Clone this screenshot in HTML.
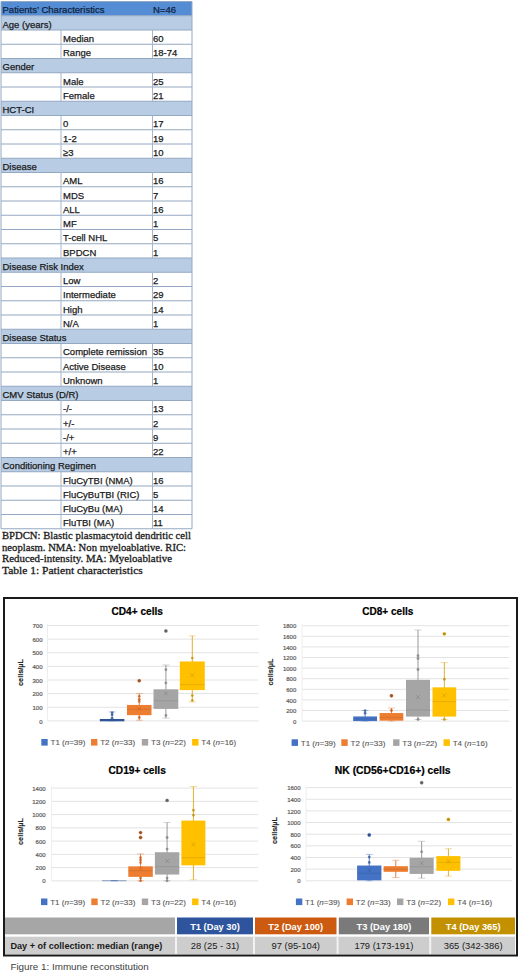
<!DOCTYPE html>
<html><head><meta charset="utf-8"><style>
html,body{margin:0;padding:0;background:#fff;}
body{width:520px;height:973px;overflow:hidden;font-family:"Liberation Sans",sans-serif;}
svg{position:absolute;left:0;top:0;font-family:"Liberation Sans",sans-serif;}
text.k{stroke:#1a1a1a;stroke-width:.25px;}
text.n{stroke:#10243f;stroke-width:.25px;}
text.s{stroke:#1a1a1a;stroke-width:.3px;}
text.a{stroke:#5a5a5a;stroke-width:.2px;}
text.l{stroke:#595959;stroke-width:.12px;}
text.b{stroke:#000;stroke-width:.2px;}
text.c{stroke:#262626;stroke-width:.15px;}
</style></head><body>
<svg width="520" height="973" viewBox="0 0 520 973">
<rect x="1" y="1.5" width="191" height="14.25" fill="#548dd4"/>
<rect x="1" y="15.75" width="191" height="14.25" fill="#b8cce4"/>
<rect x="1" y="58.5" width="191" height="14.25" fill="#b8cce4"/>
<rect x="1" y="101.25" width="191" height="14.25" fill="#b8cce4"/>
<rect x="1" y="158.25" width="191" height="14.25" fill="#b8cce4"/>
<rect x="1" y="258.0" width="191" height="14.25" fill="#b8cce4"/>
<rect x="1" y="329.25" width="191" height="14.25" fill="#b8cce4"/>
<rect x="1" y="386.25" width="191" height="14.25" fill="#b8cce4"/>
<rect x="1" y="457.5" width="191" height="14.25" fill="#b8cce4"/>
<line x1="1" x2="192" y1="1.5" y2="1.5" stroke="#94a8c2" stroke-width="1"/>
<line x1="1" x2="192" y1="15.75" y2="15.75" stroke="#94a8c2" stroke-width="1"/>
<line x1="1" x2="192" y1="30.0" y2="30.0" stroke="#94a8c2" stroke-width="1"/>
<line x1="1" x2="192" y1="44.25" y2="44.25" stroke="#94a8c2" stroke-width="1"/>
<line x1="1" x2="192" y1="58.5" y2="58.5" stroke="#94a8c2" stroke-width="1"/>
<line x1="1" x2="192" y1="72.75" y2="72.75" stroke="#94a8c2" stroke-width="1"/>
<line x1="1" x2="192" y1="87.0" y2="87.0" stroke="#94a8c2" stroke-width="1"/>
<line x1="1" x2="192" y1="101.25" y2="101.25" stroke="#94a8c2" stroke-width="1"/>
<line x1="1" x2="192" y1="115.5" y2="115.5" stroke="#94a8c2" stroke-width="1"/>
<line x1="1" x2="192" y1="129.75" y2="129.75" stroke="#94a8c2" stroke-width="1"/>
<line x1="1" x2="192" y1="144.0" y2="144.0" stroke="#94a8c2" stroke-width="1"/>
<line x1="1" x2="192" y1="158.25" y2="158.25" stroke="#94a8c2" stroke-width="1"/>
<line x1="1" x2="192" y1="172.5" y2="172.5" stroke="#94a8c2" stroke-width="1"/>
<line x1="1" x2="192" y1="186.75" y2="186.75" stroke="#94a8c2" stroke-width="1"/>
<line x1="1" x2="192" y1="201.0" y2="201.0" stroke="#94a8c2" stroke-width="1"/>
<line x1="1" x2="192" y1="215.25" y2="215.25" stroke="#94a8c2" stroke-width="1"/>
<line x1="1" x2="192" y1="229.5" y2="229.5" stroke="#94a8c2" stroke-width="1"/>
<line x1="1" x2="192" y1="243.75" y2="243.75" stroke="#94a8c2" stroke-width="1"/>
<line x1="1" x2="192" y1="258.0" y2="258.0" stroke="#94a8c2" stroke-width="1"/>
<line x1="1" x2="192" y1="272.25" y2="272.25" stroke="#94a8c2" stroke-width="1"/>
<line x1="1" x2="192" y1="286.5" y2="286.5" stroke="#94a8c2" stroke-width="1"/>
<line x1="1" x2="192" y1="300.75" y2="300.75" stroke="#94a8c2" stroke-width="1"/>
<line x1="1" x2="192" y1="315.0" y2="315.0" stroke="#94a8c2" stroke-width="1"/>
<line x1="1" x2="192" y1="329.25" y2="329.25" stroke="#94a8c2" stroke-width="1"/>
<line x1="1" x2="192" y1="343.5" y2="343.5" stroke="#94a8c2" stroke-width="1"/>
<line x1="1" x2="192" y1="357.75" y2="357.75" stroke="#94a8c2" stroke-width="1"/>
<line x1="1" x2="192" y1="372.0" y2="372.0" stroke="#94a8c2" stroke-width="1"/>
<line x1="1" x2="192" y1="386.25" y2="386.25" stroke="#94a8c2" stroke-width="1"/>
<line x1="1" x2="192" y1="400.5" y2="400.5" stroke="#94a8c2" stroke-width="1"/>
<line x1="1" x2="192" y1="414.75" y2="414.75" stroke="#94a8c2" stroke-width="1"/>
<line x1="1" x2="192" y1="429.0" y2="429.0" stroke="#94a8c2" stroke-width="1"/>
<line x1="1" x2="192" y1="443.25" y2="443.25" stroke="#94a8c2" stroke-width="1"/>
<line x1="1" x2="192" y1="457.5" y2="457.5" stroke="#94a8c2" stroke-width="1"/>
<line x1="1" x2="192" y1="471.75" y2="471.75" stroke="#94a8c2" stroke-width="1"/>
<line x1="1" x2="192" y1="486.0" y2="486.0" stroke="#94a8c2" stroke-width="1"/>
<line x1="1" x2="192" y1="500.25" y2="500.25" stroke="#94a8c2" stroke-width="1"/>
<line x1="1" x2="192" y1="514.5" y2="514.5" stroke="#94a8c2" stroke-width="1"/>
<line x1="1" x2="192" y1="528.75" y2="528.75" stroke="#94a8c2" stroke-width="1"/>
<line x1="1" x2="1" y1="1.5" y2="528.75" stroke="#94a8c2"/>
<line x1="192" x2="192" y1="1.5" y2="528.75" stroke="#94a8c2"/>
<line x1="61" x2="61" y1="30.0" y2="44.25" stroke="#a4b6cf"/>
<line x1="152.5" x2="152.5" y1="30.0" y2="44.25" stroke="#a4b6cf"/>
<line x1="61" x2="61" y1="44.25" y2="58.5" stroke="#a4b6cf"/>
<line x1="152.5" x2="152.5" y1="44.25" y2="58.5" stroke="#a4b6cf"/>
<line x1="61" x2="61" y1="72.75" y2="87.0" stroke="#a4b6cf"/>
<line x1="152.5" x2="152.5" y1="72.75" y2="87.0" stroke="#a4b6cf"/>
<line x1="61" x2="61" y1="87.0" y2="101.25" stroke="#a4b6cf"/>
<line x1="152.5" x2="152.5" y1="87.0" y2="101.25" stroke="#a4b6cf"/>
<line x1="61" x2="61" y1="115.5" y2="129.75" stroke="#a4b6cf"/>
<line x1="152.5" x2="152.5" y1="115.5" y2="129.75" stroke="#a4b6cf"/>
<line x1="61" x2="61" y1="129.75" y2="144.0" stroke="#a4b6cf"/>
<line x1="152.5" x2="152.5" y1="129.75" y2="144.0" stroke="#a4b6cf"/>
<line x1="61" x2="61" y1="144.0" y2="158.25" stroke="#a4b6cf"/>
<line x1="152.5" x2="152.5" y1="144.0" y2="158.25" stroke="#a4b6cf"/>
<line x1="61" x2="61" y1="172.5" y2="186.75" stroke="#a4b6cf"/>
<line x1="152.5" x2="152.5" y1="172.5" y2="186.75" stroke="#a4b6cf"/>
<line x1="61" x2="61" y1="186.75" y2="201.0" stroke="#a4b6cf"/>
<line x1="152.5" x2="152.5" y1="186.75" y2="201.0" stroke="#a4b6cf"/>
<line x1="61" x2="61" y1="201.0" y2="215.25" stroke="#a4b6cf"/>
<line x1="152.5" x2="152.5" y1="201.0" y2="215.25" stroke="#a4b6cf"/>
<line x1="61" x2="61" y1="215.25" y2="229.5" stroke="#a4b6cf"/>
<line x1="152.5" x2="152.5" y1="215.25" y2="229.5" stroke="#a4b6cf"/>
<line x1="61" x2="61" y1="229.5" y2="243.75" stroke="#a4b6cf"/>
<line x1="152.5" x2="152.5" y1="229.5" y2="243.75" stroke="#a4b6cf"/>
<line x1="61" x2="61" y1="243.75" y2="258.0" stroke="#a4b6cf"/>
<line x1="152.5" x2="152.5" y1="243.75" y2="258.0" stroke="#a4b6cf"/>
<line x1="61" x2="61" y1="272.25" y2="286.5" stroke="#a4b6cf"/>
<line x1="152.5" x2="152.5" y1="272.25" y2="286.5" stroke="#a4b6cf"/>
<line x1="61" x2="61" y1="286.5" y2="300.75" stroke="#a4b6cf"/>
<line x1="152.5" x2="152.5" y1="286.5" y2="300.75" stroke="#a4b6cf"/>
<line x1="61" x2="61" y1="300.75" y2="315.0" stroke="#a4b6cf"/>
<line x1="152.5" x2="152.5" y1="300.75" y2="315.0" stroke="#a4b6cf"/>
<line x1="61" x2="61" y1="315.0" y2="329.25" stroke="#a4b6cf"/>
<line x1="152.5" x2="152.5" y1="315.0" y2="329.25" stroke="#a4b6cf"/>
<line x1="61" x2="61" y1="343.5" y2="357.75" stroke="#a4b6cf"/>
<line x1="152.5" x2="152.5" y1="343.5" y2="357.75" stroke="#a4b6cf"/>
<line x1="61" x2="61" y1="357.75" y2="372.0" stroke="#a4b6cf"/>
<line x1="152.5" x2="152.5" y1="357.75" y2="372.0" stroke="#a4b6cf"/>
<line x1="61" x2="61" y1="372.0" y2="386.25" stroke="#a4b6cf"/>
<line x1="152.5" x2="152.5" y1="372.0" y2="386.25" stroke="#a4b6cf"/>
<line x1="61" x2="61" y1="400.5" y2="414.75" stroke="#a4b6cf"/>
<line x1="152.5" x2="152.5" y1="400.5" y2="414.75" stroke="#a4b6cf"/>
<line x1="61" x2="61" y1="414.75" y2="429.0" stroke="#a4b6cf"/>
<line x1="152.5" x2="152.5" y1="414.75" y2="429.0" stroke="#a4b6cf"/>
<line x1="61" x2="61" y1="429.0" y2="443.25" stroke="#a4b6cf"/>
<line x1="152.5" x2="152.5" y1="429.0" y2="443.25" stroke="#a4b6cf"/>
<line x1="61" x2="61" y1="443.25" y2="457.5" stroke="#a4b6cf"/>
<line x1="152.5" x2="152.5" y1="443.25" y2="457.5" stroke="#a4b6cf"/>
<line x1="61" x2="61" y1="471.75" y2="486.0" stroke="#a4b6cf"/>
<line x1="152.5" x2="152.5" y1="471.75" y2="486.0" stroke="#a4b6cf"/>
<line x1="61" x2="61" y1="486.0" y2="500.25" stroke="#a4b6cf"/>
<line x1="152.5" x2="152.5" y1="486.0" y2="500.25" stroke="#a4b6cf"/>
<line x1="61" x2="61" y1="500.25" y2="514.5" stroke="#a4b6cf"/>
<line x1="152.5" x2="152.5" y1="500.25" y2="514.5" stroke="#a4b6cf"/>
<line x1="61" x2="61" y1="514.5" y2="528.75" stroke="#a4b6cf"/>
<line x1="152.5" x2="152.5" y1="514.5" y2="528.75" stroke="#a4b6cf"/>
<text x="2.5" y="13.3" font-size="9.5" fill="#10243f" class="n" textLength="102" lengthAdjust="spacingAndGlyphs">Patients’ Characteristics</text>
<text x="153" y="13.3" font-size="9.5" fill="#10243f" class="n">N=46</text>
<text x="2.5" y="27.55" font-size="9.5" fill="#1a1a1a" class="k">Age (years)</text>
<text x="63" y="41.8" font-size="9.5" fill="#1a1a1a" class="k">Median</text>
<text x="153" y="41.8" font-size="9.5" fill="#1a1a1a" class="k">60</text>
<text x="63" y="56.05" font-size="9.5" fill="#1a1a1a" class="k">Range</text>
<text x="153" y="56.05" font-size="9.5" fill="#1a1a1a" class="k">18-74</text>
<text x="2.5" y="70.3" font-size="9.5" fill="#1a1a1a" class="k">Gender</text>
<text x="63" y="84.55" font-size="9.5" fill="#1a1a1a" class="k">Male</text>
<text x="153" y="84.55" font-size="9.5" fill="#1a1a1a" class="k">25</text>
<text x="63" y="98.8" font-size="9.5" fill="#1a1a1a" class="k">Female</text>
<text x="153" y="98.8" font-size="9.5" fill="#1a1a1a" class="k">21</text>
<text x="2.5" y="113.05" font-size="9.5" fill="#1a1a1a" class="k">HCT-CI</text>
<text x="63" y="127.3" font-size="9.5" fill="#1a1a1a" class="k">0</text>
<text x="153" y="127.3" font-size="9.5" fill="#1a1a1a" class="k">17</text>
<text x="63" y="141.55" font-size="9.5" fill="#1a1a1a" class="k">1-2</text>
<text x="153" y="141.55" font-size="9.5" fill="#1a1a1a" class="k">19</text>
<text x="63" y="155.8" font-size="9.5" fill="#1a1a1a" class="k">≥3</text>
<text x="153" y="155.8" font-size="9.5" fill="#1a1a1a" class="k">10</text>
<text x="2.5" y="170.05" font-size="9.5" fill="#1a1a1a" class="k">Disease</text>
<text x="63" y="184.3" font-size="9.5" fill="#1a1a1a" class="k">AML</text>
<text x="153" y="184.3" font-size="9.5" fill="#1a1a1a" class="k">16</text>
<text x="63" y="198.55" font-size="9.5" fill="#1a1a1a" class="k">MDS</text>
<text x="153" y="198.55" font-size="9.5" fill="#1a1a1a" class="k">7</text>
<text x="63" y="212.8" font-size="9.5" fill="#1a1a1a" class="k">ALL</text>
<text x="153" y="212.8" font-size="9.5" fill="#1a1a1a" class="k">16</text>
<text x="63" y="227.05" font-size="9.5" fill="#1a1a1a" class="k">MF</text>
<text x="153" y="227.05" font-size="9.5" fill="#1a1a1a" class="k">1</text>
<text x="63" y="241.3" font-size="9.5" fill="#1a1a1a" class="k">T-cell NHL</text>
<text x="153" y="241.3" font-size="9.5" fill="#1a1a1a" class="k">5</text>
<text x="63" y="255.55" font-size="9.5" fill="#1a1a1a" class="k">BPDCN</text>
<text x="153" y="255.55" font-size="9.5" fill="#1a1a1a" class="k">1</text>
<text x="2.5" y="269.8" font-size="9.5" fill="#1a1a1a" class="k">Disease Risk Index</text>
<text x="63" y="284.05" font-size="9.5" fill="#1a1a1a" class="k">Low</text>
<text x="153" y="284.05" font-size="9.5" fill="#1a1a1a" class="k">2</text>
<text x="63" y="298.3" font-size="9.5" fill="#1a1a1a" class="k">Intermediate</text>
<text x="153" y="298.3" font-size="9.5" fill="#1a1a1a" class="k">29</text>
<text x="63" y="312.55" font-size="9.5" fill="#1a1a1a" class="k">High</text>
<text x="153" y="312.55" font-size="9.5" fill="#1a1a1a" class="k">14</text>
<text x="63" y="326.8" font-size="9.5" fill="#1a1a1a" class="k">N/A</text>
<text x="153" y="326.8" font-size="9.5" fill="#1a1a1a" class="k">1</text>
<text x="2.5" y="341.05" font-size="9.5" fill="#1a1a1a" class="k">Disease Status</text>
<text x="63" y="355.3" font-size="9.5" fill="#1a1a1a" class="k">Complete remission</text>
<text x="153" y="355.3" font-size="9.5" fill="#1a1a1a" class="k">35</text>
<text x="63" y="369.55" font-size="9.5" fill="#1a1a1a" class="k">Active Disease</text>
<text x="153" y="369.55" font-size="9.5" fill="#1a1a1a" class="k">10</text>
<text x="63" y="383.8" font-size="9.5" fill="#1a1a1a" class="k">Unknown</text>
<text x="153" y="383.8" font-size="9.5" fill="#1a1a1a" class="k">1</text>
<text x="2.5" y="398.05" font-size="9.5" fill="#1a1a1a" class="k">CMV Status (D/R)</text>
<text x="63" y="412.3" font-size="9.5" fill="#1a1a1a" class="k">-/-</text>
<text x="153" y="412.3" font-size="9.5" fill="#1a1a1a" class="k">13</text>
<text x="63" y="426.55" font-size="9.5" fill="#1a1a1a" class="k">+/-</text>
<text x="153" y="426.55" font-size="9.5" fill="#1a1a1a" class="k">2</text>
<text x="63" y="440.8" font-size="9.5" fill="#1a1a1a" class="k">-/+</text>
<text x="153" y="440.8" font-size="9.5" fill="#1a1a1a" class="k">9</text>
<text x="63" y="455.05" font-size="9.5" fill="#1a1a1a" class="k">+/+</text>
<text x="153" y="455.05" font-size="9.5" fill="#1a1a1a" class="k">22</text>
<text x="2.5" y="469.3" font-size="9.5" fill="#1a1a1a" class="k">Conditioning Regimen</text>
<text x="63" y="483.55" font-size="9.5" fill="#1a1a1a" class="k">FluCyTBI (NMA)</text>
<text x="153" y="483.55" font-size="9.5" fill="#1a1a1a" class="k">16</text>
<text x="63" y="497.8" font-size="9.5" fill="#1a1a1a" class="k">FluCyBuTBI (RIC)</text>
<text x="153" y="497.8" font-size="9.5" fill="#1a1a1a" class="k">5</text>
<text x="63" y="512.05" font-size="9.5" fill="#1a1a1a" class="k">FluCyBu (MA)</text>
<text x="153" y="512.05" font-size="9.5" fill="#1a1a1a" class="k">14</text>
<text x="63" y="526.3" font-size="9.5" fill="#1a1a1a" class="k">FluTBI (MA)</text>
<text x="153" y="526.3" font-size="9.5" fill="#1a1a1a" class="k">11</text>
<text x="2" y="539.1" font-family="Liberation Serif" font-size="11" fill="#1a1a1a" class="s" textLength="189" lengthAdjust="spacingAndGlyphs">BPDCN: Blastic plasmacytoid dendritic cell</text>
<text x="2" y="550.6" font-family="Liberation Serif" font-size="11" fill="#1a1a1a" class="s" textLength="184" lengthAdjust="spacingAndGlyphs">neoplasm. NMA: Non myeloablative. RIC:</text>
<text x="2" y="562.0" font-family="Liberation Serif" font-size="11" fill="#1a1a1a" class="s" textLength="170" lengthAdjust="spacingAndGlyphs">Reduced-intensity. MA: Myeloablative</text>
<text x="2" y="574.1" font-family="Liberation Serif" font-size="11" fill="#1a1a1a" class="s" textLength="140.8" lengthAdjust="spacingAndGlyphs">Table 1: Patient characteristics</text>
<rect x="4" y="598" width="513" height="357.5" fill="none" stroke="#1a1a1a" stroke-width="2"/>
<text x="111.5" y="614.6" font-size="10.1" font-weight="bold" fill="#000" class="b" textLength="51.5" lengthAdjust="spacingAndGlyphs">CD4+ cells</text>
<line x1="47.5" x2="258.5" y1="720.90" y2="720.90" stroke="#e3e3e3" stroke-width="1"/>
<text x="42.5" y="723.50" font-size="6" fill="#5a5a5a" class="a" text-anchor="end">0</text>
<line x1="47.5" x2="258.5" y1="707.27" y2="707.27" stroke="#e3e3e3" stroke-width="1"/>
<text x="42.5" y="709.87" font-size="6" fill="#5a5a5a" class="a" text-anchor="end">100</text>
<line x1="47.5" x2="258.5" y1="693.64" y2="693.64" stroke="#e3e3e3" stroke-width="1"/>
<text x="42.5" y="696.24" font-size="6" fill="#5a5a5a" class="a" text-anchor="end">200</text>
<line x1="47.5" x2="258.5" y1="680.01" y2="680.01" stroke="#e3e3e3" stroke-width="1"/>
<text x="42.5" y="682.61" font-size="6" fill="#5a5a5a" class="a" text-anchor="end">300</text>
<line x1="47.5" x2="258.5" y1="666.39" y2="666.39" stroke="#e3e3e3" stroke-width="1"/>
<text x="42.5" y="668.99" font-size="6" fill="#5a5a5a" class="a" text-anchor="end">400</text>
<line x1="47.5" x2="258.5" y1="652.76" y2="652.76" stroke="#e3e3e3" stroke-width="1"/>
<text x="42.5" y="655.36" font-size="6" fill="#5a5a5a" class="a" text-anchor="end">500</text>
<line x1="47.5" x2="258.5" y1="639.13" y2="639.13" stroke="#e3e3e3" stroke-width="1"/>
<text x="42.5" y="641.73" font-size="6" fill="#5a5a5a" class="a" text-anchor="end">600</text>
<line x1="47.5" x2="258.5" y1="625.50" y2="625.50" stroke="#e3e3e3" stroke-width="1"/>
<text x="42.5" y="628.10" font-size="6" fill="#5a5a5a" class="a" text-anchor="end">700</text>
<line x1="47.50" x2="47.50" y1="623.50" y2="720.90" stroke="#eeeeee" stroke-width="1"/>
<text transform="translate(22.6,672.5) rotate(-90)" font-size="7.3" font-weight="bold" fill="#262626" class="c" text-anchor="middle">cells/µL</text>
<line x1="112.10" x2="112.10" y1="711.91" y2="720.90" stroke="#5a7fc4" stroke-width="1"/>
<line x1="108.60" x2="115.60" y1="711.91" y2="711.91" stroke="#5a7fc4" stroke-opacity="0.45" stroke-width="1"/>
<line x1="108.60" x2="115.60" y1="720.90" y2="720.90" stroke="#5a7fc4" stroke-opacity="0.45" stroke-width="1"/>
<rect x="99.80" y="718.99" width="24.60" height="2.32" fill="#2f5597"/>
<circle cx="112.10" cy="718.17" r="1.4" fill="#2f5597" fill-opacity="0.75"/>
<circle cx="112.10" cy="714.77" r="1.4" fill="#2f5597" fill-opacity="0.75"/>
<circle cx="112.10" cy="712.72" r="1.4" fill="#2f5597" fill-opacity="0.75"/>
<line x1="139.25" x2="139.25" y1="693.51" y2="720.22" stroke="#e0813f" stroke-width="1"/>
<line x1="135.75" x2="142.75" y1="693.51" y2="693.51" stroke="#e0813f" stroke-opacity="0.45" stroke-width="1"/>
<line x1="135.75" x2="142.75" y1="720.22" y2="720.22" stroke="#e0813f" stroke-opacity="0.45" stroke-width="1"/>
<rect x="127.00" y="704.95" width="24.50" height="10.22" fill="#ed7d31"/>
<line x1="127.00" x2="151.50" y1="709.32" y2="709.32" stroke="#000" stroke-opacity="0.09" stroke-width="1"/>
<path d="M137.25 706.63L141.25 710.63M141.25 706.63L137.25 710.63" stroke="#c55a11" stroke-opacity="0.6" stroke-width="0.8" fill="none"/>
<circle cx="139.25" cy="701.41" r="1.4" fill="#c55a11" fill-opacity="0.75"/>
<circle cx="139.25" cy="699.37" r="1.4" fill="#c55a11" fill-opacity="0.75"/>
<circle cx="139.25" cy="696.37" r="1.4" fill="#c55a11" fill-opacity="0.75"/>
<circle cx="139.25" cy="717.49" r="1.4" fill="#c55a11" fill-opacity="0.75"/>
<circle cx="139.25" cy="680.70" r="1.7" fill="#9a5428" stroke="#ed7d31" stroke-opacity="0.4" stroke-width="0.6"/>
<line x1="165.90" x2="165.90" y1="665.02" y2="718.04" stroke="#9a9a9a" stroke-width="1"/>
<line x1="162.40" x2="169.40" y1="665.02" y2="665.02" stroke="#9a9a9a" stroke-opacity="0.45" stroke-width="1"/>
<line x1="162.40" x2="169.40" y1="718.04" y2="718.04" stroke="#9a9a9a" stroke-opacity="0.45" stroke-width="1"/>
<rect x="153.50" y="689.28" width="24.80" height="19.63" fill="#a5a5a5"/>
<line x1="153.50" x2="178.30" y1="700.73" y2="700.73" stroke="#000" stroke-opacity="0.09" stroke-width="1"/>
<path d="M163.90 691.37L167.90 695.37M167.90 691.37L163.90 695.37" stroke="#7b7b7b" stroke-opacity="0.6" stroke-width="0.8" fill="none"/>
<circle cx="165.90" cy="669.66" r="1.4" fill="#7b7b7b" fill-opacity="0.75"/>
<circle cx="165.90" cy="682.88" r="1.4" fill="#7b7b7b" fill-opacity="0.75"/>
<circle cx="165.90" cy="715.45" r="1.4" fill="#7b7b7b" fill-opacity="0.75"/>
<circle cx="165.90" cy="630.95" r="1.7" fill="#606060" stroke="#a5a5a5" stroke-opacity="0.4" stroke-width="0.6"/>
<line x1="192.30" x2="192.30" y1="635.86" y2="701.82" stroke="#e0b030" stroke-width="1"/>
<line x1="188.80" x2="195.80" y1="635.86" y2="635.86" stroke="#e0b030" stroke-opacity="0.45" stroke-width="1"/>
<line x1="188.80" x2="195.80" y1="701.82" y2="701.82" stroke="#e0b030" stroke-opacity="0.45" stroke-width="1"/>
<rect x="179.80" y="661.48" width="25.00" height="28.62" fill="#ffc000"/>
<line x1="179.80" x2="204.80" y1="684.65" y2="684.65" stroke="#000" stroke-opacity="0.09" stroke-width="1"/>
<path d="M190.30 673.24L194.30 677.24M194.30 673.24L190.30 677.24" stroke="#bf9000" stroke-opacity="0.6" stroke-width="0.8" fill="none"/>
<circle cx="192.30" cy="658.07" r="1.4" fill="#bf9000" fill-opacity="0.75"/>
<circle cx="192.30" cy="695.55" r="1.4" fill="#bf9000" fill-opacity="0.75"/>
<circle cx="192.30" cy="700.46" r="1.4" fill="#bf9000" fill-opacity="0.75"/>
<rect x="41.3" y="739" width="6.4" height="6.6" fill="#4472c4"/>
<text x="50.5" y="745.2" font-size="8" fill="#595959" class="l">T1 (<tspan font-style='italic'>n</tspan>=39)</text>
<rect x="91" y="739" width="6.4" height="6.6" fill="#ed7d31"/>
<text x="100.2" y="745.2" font-size="8" fill="#595959" class="l">T2 (<tspan font-style='italic'>n</tspan>=33)</text>
<rect x="141.8" y="739" width="6.4" height="6.6" fill="#a5a5a5"/>
<text x="151.0" y="745.2" font-size="8" fill="#595959" class="l">T3 (<tspan font-style='italic'>n</tspan>=22)</text>
<rect x="192.1" y="739" width="6.4" height="6.6" fill="#ffc000"/>
<text x="201.29999999999998" y="745.2" font-size="8" fill="#595959" class="l">T4 (<tspan font-style='italic'>n</tspan>=16)</text>
<text x="362.3" y="614.6" font-size="10.1" font-weight="bold" fill="#000" class="b" textLength="51" lengthAdjust="spacingAndGlyphs">CD8+ cells</text>
<line x1="302" x2="509.2" y1="721.10" y2="721.10" stroke="#e3e3e3" stroke-width="1"/>
<text x="296.3" y="723.70" font-size="6" fill="#5a5a5a" class="a" text-anchor="end">0</text>
<line x1="302" x2="509.2" y1="710.50" y2="710.50" stroke="#e3e3e3" stroke-width="1"/>
<text x="296.3" y="713.10" font-size="6" fill="#5a5a5a" class="a" text-anchor="end">200</text>
<line x1="302" x2="509.2" y1="699.90" y2="699.90" stroke="#e3e3e3" stroke-width="1"/>
<text x="296.3" y="702.50" font-size="6" fill="#5a5a5a" class="a" text-anchor="end">400</text>
<line x1="302" x2="509.2" y1="689.30" y2="689.30" stroke="#e3e3e3" stroke-width="1"/>
<text x="296.3" y="691.90" font-size="6" fill="#5a5a5a" class="a" text-anchor="end">600</text>
<line x1="302" x2="509.2" y1="678.70" y2="678.70" stroke="#e3e3e3" stroke-width="1"/>
<text x="296.3" y="681.30" font-size="6" fill="#5a5a5a" class="a" text-anchor="end">800</text>
<line x1="302" x2="509.2" y1="668.10" y2="668.10" stroke="#e3e3e3" stroke-width="1"/>
<text x="296.3" y="670.70" font-size="6" fill="#5a5a5a" class="a" text-anchor="end">1000</text>
<line x1="302" x2="509.2" y1="657.50" y2="657.50" stroke="#e3e3e3" stroke-width="1"/>
<text x="296.3" y="660.10" font-size="6" fill="#5a5a5a" class="a" text-anchor="end">1200</text>
<line x1="302" x2="509.2" y1="646.90" y2="646.90" stroke="#e3e3e3" stroke-width="1"/>
<text x="296.3" y="649.50" font-size="6" fill="#5a5a5a" class="a" text-anchor="end">1400</text>
<line x1="302" x2="509.2" y1="636.30" y2="636.30" stroke="#e3e3e3" stroke-width="1"/>
<text x="296.3" y="638.90" font-size="6" fill="#5a5a5a" class="a" text-anchor="end">1600</text>
<line x1="302" x2="509.2" y1="625.70" y2="625.70" stroke="#e3e3e3" stroke-width="1"/>
<text x="296.3" y="628.30" font-size="6" fill="#5a5a5a" class="a" text-anchor="end">1800</text>
<line x1="302.00" x2="302.00" y1="623.70" y2="721.10" stroke="#eeeeee" stroke-width="1"/>
<text transform="translate(273.3,672) rotate(-90)" font-size="7.3" font-weight="bold" fill="#262626" class="c" text-anchor="middle">cells/µL</text>
<line x1="365.10" x2="365.10" y1="710.55" y2="721.10" stroke="#5a7fc4" stroke-width="1"/>
<line x1="361.60" x2="368.60" y1="710.55" y2="710.55" stroke="#5a7fc4" stroke-opacity="0.45" stroke-width="1"/>
<line x1="361.60" x2="368.60" y1="721.10" y2="721.10" stroke="#5a7fc4" stroke-opacity="0.45" stroke-width="1"/>
<rect x="353.20" y="716.44" width="23.80" height="4.66" fill="#4472c4"/>
<line x1="353.20" x2="377.00" y1="718.98" y2="718.98" stroke="#000" stroke-opacity="0.09" stroke-width="1"/>
<circle cx="365.10" cy="713.15" r="1.4" fill="#2f5597" fill-opacity="0.75"/>
<circle cx="365.10" cy="710.55" r="1.4" fill="#2f5597" fill-opacity="0.75"/>
<line x1="391.45" x2="391.45" y1="708.06" y2="721.10" stroke="#e0813f" stroke-width="1"/>
<line x1="387.95" x2="394.95" y1="708.06" y2="708.06" stroke="#e0813f" stroke-opacity="0.45" stroke-width="1"/>
<line x1="387.95" x2="394.95" y1="721.10" y2="721.10" stroke="#e0813f" stroke-opacity="0.45" stroke-width="1"/>
<rect x="379.60" y="713.04" width="23.70" height="7.63" fill="#ed7d31"/>
<line x1="379.60" x2="403.30" y1="717.39" y2="717.39" stroke="#000" stroke-opacity="0.09" stroke-width="1"/>
<circle cx="391.45" cy="710.50" r="1.4" fill="#c55a11" fill-opacity="0.75"/>
<circle cx="391.45" cy="695.77" r="1.7" fill="#9a5428" stroke="#ed7d31" stroke-opacity="0.4" stroke-width="0.6"/>
<line x1="418.00" x2="418.00" y1="629.99" y2="719.51" stroke="#9a9a9a" stroke-width="1"/>
<line x1="414.50" x2="421.50" y1="629.99" y2="629.99" stroke="#9a9a9a" stroke-opacity="0.45" stroke-width="1"/>
<line x1="414.50" x2="421.50" y1="719.51" y2="719.51" stroke="#9a9a9a" stroke-opacity="0.45" stroke-width="1"/>
<rect x="406.00" y="679.81" width="24.00" height="36.78" fill="#a5a5a5"/>
<line x1="406.00" x2="430.00" y1="710.02" y2="710.02" stroke="#000" stroke-opacity="0.09" stroke-width="1"/>
<path d="M416.00 695.09L420.00 699.09M420.00 695.09L416.00 699.09" stroke="#7b7b7b" stroke-opacity="0.6" stroke-width="0.8" fill="none"/>
<circle cx="418.00" cy="655.70" r="1.4" fill="#7b7b7b" fill-opacity="0.75"/>
<circle cx="418.00" cy="658.61" r="1.4" fill="#7b7b7b" fill-opacity="0.75"/>
<circle cx="418.00" cy="669.48" r="1.4" fill="#7b7b7b" fill-opacity="0.75"/>
<circle cx="418.00" cy="719.51" r="1.4" fill="#7b7b7b" fill-opacity="0.75"/>
<line x1="444.35" x2="444.35" y1="662.59" y2="719.51" stroke="#e0b030" stroke-width="1"/>
<line x1="440.85" x2="447.85" y1="662.59" y2="662.59" stroke="#e0b030" stroke-opacity="0.45" stroke-width="1"/>
<line x1="440.85" x2="447.85" y1="719.51" y2="719.51" stroke="#e0b030" stroke-opacity="0.45" stroke-width="1"/>
<rect x="432.50" y="687.34" width="23.70" height="29.26" fill="#ffc000"/>
<line x1="432.50" x2="456.20" y1="701.65" y2="701.65" stroke="#000" stroke-opacity="0.09" stroke-width="1"/>
<path d="M442.35 693.39L446.35 697.39M446.35 693.39L442.35 697.39" stroke="#bf9000" stroke-opacity="0.6" stroke-width="0.8" fill="none"/>
<circle cx="444.35" cy="679.23" r="1.4" fill="#bf9000" fill-opacity="0.75"/>
<circle cx="444.35" cy="719.51" r="1.4" fill="#bf9000" fill-opacity="0.75"/>
<circle cx="444.35" cy="633.86" r="1.7" fill="#b89018" stroke="#ffc000" stroke-opacity="0.4" stroke-width="0.6"/>
<rect x="291.6" y="739.3" width="6.4" height="6.6" fill="#4472c4"/>
<text x="300.8" y="745.5" font-size="8" fill="#595959" class="l">T1 (<tspan font-style='italic'>n</tspan>=39)</text>
<rect x="341.3" y="739.3" width="6.4" height="6.6" fill="#ed7d31"/>
<text x="350.5" y="745.5" font-size="8" fill="#595959" class="l">T2 (<tspan font-style='italic'>n</tspan>=33)</text>
<rect x="393.1" y="739.3" width="6.4" height="6.6" fill="#a5a5a5"/>
<text x="402.3" y="745.5" font-size="8" fill="#595959" class="l">T3 (<tspan font-style='italic'>n</tspan>=22)</text>
<rect x="443.5" y="739.3" width="6.4" height="6.6" fill="#ffc000"/>
<text x="452.7" y="745.5" font-size="8" fill="#595959" class="l">T4 (<tspan font-style='italic'>n</tspan>=16)</text>
<text x="108.5" y="774.2" font-size="10.1" font-weight="bold" fill="#000" class="b" textLength="57.3" lengthAdjust="spacingAndGlyphs">CD19+ cells</text>
<line x1="51.6" x2="258.2" y1="880.85" y2="880.85" stroke="#e3e3e3" stroke-width="1"/>
<text x="45.6" y="883.45" font-size="6" fill="#5a5a5a" class="a" text-anchor="end">0</text>
<line x1="51.6" x2="258.2" y1="867.60" y2="867.60" stroke="#e3e3e3" stroke-width="1"/>
<text x="45.6" y="870.20" font-size="6" fill="#5a5a5a" class="a" text-anchor="end">200</text>
<line x1="51.6" x2="258.2" y1="854.35" y2="854.35" stroke="#e3e3e3" stroke-width="1"/>
<text x="45.6" y="856.95" font-size="6" fill="#5a5a5a" class="a" text-anchor="end">400</text>
<line x1="51.6" x2="258.2" y1="841.10" y2="841.10" stroke="#e3e3e3" stroke-width="1"/>
<text x="45.6" y="843.70" font-size="6" fill="#5a5a5a" class="a" text-anchor="end">600</text>
<line x1="51.6" x2="258.2" y1="827.85" y2="827.85" stroke="#e3e3e3" stroke-width="1"/>
<text x="45.6" y="830.45" font-size="6" fill="#5a5a5a" class="a" text-anchor="end">800</text>
<line x1="51.6" x2="258.2" y1="814.60" y2="814.60" stroke="#e3e3e3" stroke-width="1"/>
<text x="45.6" y="817.20" font-size="6" fill="#5a5a5a" class="a" text-anchor="end">1000</text>
<line x1="51.6" x2="258.2" y1="801.35" y2="801.35" stroke="#e3e3e3" stroke-width="1"/>
<text x="45.6" y="803.95" font-size="6" fill="#5a5a5a" class="a" text-anchor="end">1200</text>
<line x1="51.6" x2="258.2" y1="788.10" y2="788.10" stroke="#e3e3e3" stroke-width="1"/>
<text x="45.6" y="790.70" font-size="6" fill="#5a5a5a" class="a" text-anchor="end">1400</text>
<line x1="51.60" x2="51.60" y1="786.10" y2="880.85" stroke="#eeeeee" stroke-width="1"/>
<text transform="translate(22.6,831.5) rotate(-90)" font-size="7.3" font-weight="bold" fill="#262626" class="c" text-anchor="middle">cells/µL</text>
<line x1="114.25" x2="114.25" y1="880.59" y2="880.85" stroke="#5a7fc4" stroke-width="1"/>
<line x1="110.75" x2="117.75" y1="880.59" y2="880.59" stroke="#5a7fc4" stroke-opacity="0.45" stroke-width="1"/>
<line x1="110.75" x2="117.75" y1="880.85" y2="880.85" stroke="#5a7fc4" stroke-opacity="0.45" stroke-width="1"/>
<rect x="102.00" y="880.59" width="24.50" height="0.53" fill="#2f5597"/>
<line x1="140.55" x2="140.55" y1="853.95" y2="880.85" stroke="#e0813f" stroke-width="1"/>
<line x1="137.05" x2="144.05" y1="853.95" y2="853.95" stroke="#e0813f" stroke-opacity="0.45" stroke-width="1"/>
<line x1="137.05" x2="144.05" y1="880.85" y2="880.85" stroke="#e0813f" stroke-opacity="0.45" stroke-width="1"/>
<rect x="128.30" y="866.34" width="24.50" height="10.53" fill="#ed7d31"/>
<line x1="128.30" x2="152.80" y1="870.78" y2="870.78" stroke="#000" stroke-opacity="0.09" stroke-width="1"/>
<path d="M138.55 866.26L142.55 870.26M142.55 866.26L138.55 870.26" stroke="#c55a11" stroke-opacity="0.6" stroke-width="0.8" fill="none"/>
<circle cx="140.55" cy="857.66" r="1.4" fill="#c55a11" fill-opacity="0.75"/>
<circle cx="140.55" cy="860.11" r="1.4" fill="#c55a11" fill-opacity="0.75"/>
<circle cx="140.55" cy="862.57" r="1.4" fill="#c55a11" fill-opacity="0.75"/>
<circle cx="140.55" cy="878.07" r="1.4" fill="#c55a11" fill-opacity="0.75"/>
<circle cx="140.55" cy="880.85" r="1.4" fill="#c55a11" fill-opacity="0.75"/>
<circle cx="140.55" cy="832.62" r="1.7" fill="#9a5428" stroke="#ed7d31" stroke-opacity="0.4" stroke-width="0.6"/>
<circle cx="140.55" cy="837.52" r="1.7" fill="#9a5428" stroke="#ed7d31" stroke-opacity="0.4" stroke-width="0.6"/>
<line x1="167.10" x2="167.10" y1="822.55" y2="880.85" stroke="#9a9a9a" stroke-width="1"/>
<line x1="163.60" x2="170.60" y1="822.55" y2="822.55" stroke="#9a9a9a" stroke-opacity="0.45" stroke-width="1"/>
<line x1="163.60" x2="170.60" y1="880.85" y2="880.85" stroke="#9a9a9a" stroke-opacity="0.45" stroke-width="1"/>
<rect x="154.90" y="852.23" width="24.40" height="22.33" fill="#a5a5a5"/>
<line x1="154.90" x2="179.30" y1="866.61" y2="866.61" stroke="#000" stroke-opacity="0.09" stroke-width="1"/>
<path d="M165.10 858.98L169.10 862.98M169.10 858.98L165.10 862.98" stroke="#7b7b7b" stroke-opacity="0.6" stroke-width="0.8" fill="none"/>
<circle cx="167.10" cy="837.52" r="1.4" fill="#7b7b7b" fill-opacity="0.75"/>
<circle cx="167.10" cy="849.12" r="1.4" fill="#7b7b7b" fill-opacity="0.75"/>
<circle cx="167.10" cy="878.07" r="1.4" fill="#7b7b7b" fill-opacity="0.75"/>
<circle cx="167.10" cy="880.85" r="1.4" fill="#7b7b7b" fill-opacity="0.75"/>
<circle cx="167.10" cy="800.42" r="1.7" fill="#606060" stroke="#a5a5a5" stroke-opacity="0.4" stroke-width="0.6"/>
<line x1="193.40" x2="193.40" y1="786.51" y2="879.72" stroke="#e0b030" stroke-width="1"/>
<line x1="189.90" x2="196.90" y1="786.51" y2="786.51" stroke="#e0b030" stroke-opacity="0.45" stroke-width="1"/>
<line x1="189.90" x2="196.90" y1="879.72" y2="879.72" stroke="#e0b030" stroke-opacity="0.45" stroke-width="1"/>
<rect x="181.40" y="820.56" width="24.00" height="44.78" fill="#ffc000"/>
<line x1="181.40" x2="205.40" y1="857.66" y2="857.66" stroke="#000" stroke-opacity="0.09" stroke-width="1"/>
<path d="M191.40 842.61L195.40 846.61M195.40 842.61L191.40 846.61" stroke="#bf9000" stroke-opacity="0.6" stroke-width="0.8" fill="none"/>
<circle cx="193.40" cy="810.23" r="1.4" fill="#bf9000" fill-opacity="0.75"/>
<circle cx="193.40" cy="815.13" r="1.4" fill="#bf9000" fill-opacity="0.75"/>
<rect x="41" y="898.5" width="6.4" height="6.6" fill="#4472c4"/>
<text x="50.2" y="904.7" font-size="8" fill="#595959" class="l">T1 (<tspan font-style='italic'>n</tspan>=39)</text>
<rect x="91.3" y="898.5" width="6.4" height="6.6" fill="#ed7d31"/>
<text x="100.5" y="904.7" font-size="8" fill="#595959" class="l">T2 (<tspan font-style='italic'>n</tspan>=33)</text>
<rect x="141.8" y="898.5" width="6.4" height="6.6" fill="#a5a5a5"/>
<text x="151.0" y="904.7" font-size="8" fill="#595959" class="l">T3 (<tspan font-style='italic'>n</tspan>=22)</text>
<rect x="192.1" y="898.5" width="6.4" height="6.6" fill="#ffc000"/>
<text x="201.29999999999998" y="904.7" font-size="8" fill="#595959" class="l">T4 (<tspan font-style='italic'>n</tspan>=16)</text>
<text x="334.8" y="774.0" font-size="10.1" font-weight="bold" fill="#000" class="b" textLength="115.8" lengthAdjust="spacingAndGlyphs">NK (CD56+CD16+) cells</text>
<line x1="306" x2="512.3" y1="880.80" y2="880.80" stroke="#e3e3e3" stroke-width="1"/>
<text x="300.5" y="883.40" font-size="6" fill="#5a5a5a" class="a" text-anchor="end">0</text>
<line x1="306" x2="512.3" y1="869.15" y2="869.15" stroke="#e3e3e3" stroke-width="1"/>
<text x="300.5" y="871.75" font-size="6" fill="#5a5a5a" class="a" text-anchor="end">200</text>
<line x1="306" x2="512.3" y1="857.50" y2="857.50" stroke="#e3e3e3" stroke-width="1"/>
<text x="300.5" y="860.10" font-size="6" fill="#5a5a5a" class="a" text-anchor="end">400</text>
<line x1="306" x2="512.3" y1="845.85" y2="845.85" stroke="#e3e3e3" stroke-width="1"/>
<text x="300.5" y="848.45" font-size="6" fill="#5a5a5a" class="a" text-anchor="end">600</text>
<line x1="306" x2="512.3" y1="834.20" y2="834.20" stroke="#e3e3e3" stroke-width="1"/>
<text x="300.5" y="836.80" font-size="6" fill="#5a5a5a" class="a" text-anchor="end">800</text>
<line x1="306" x2="512.3" y1="822.55" y2="822.55" stroke="#e3e3e3" stroke-width="1"/>
<text x="300.5" y="825.15" font-size="6" fill="#5a5a5a" class="a" text-anchor="end">1000</text>
<line x1="306" x2="512.3" y1="810.90" y2="810.90" stroke="#e3e3e3" stroke-width="1"/>
<text x="300.5" y="813.50" font-size="6" fill="#5a5a5a" class="a" text-anchor="end">1200</text>
<line x1="306" x2="512.3" y1="799.25" y2="799.25" stroke="#e3e3e3" stroke-width="1"/>
<text x="300.5" y="801.85" font-size="6" fill="#5a5a5a" class="a" text-anchor="end">1400</text>
<line x1="306" x2="512.3" y1="787.60" y2="787.60" stroke="#e3e3e3" stroke-width="1"/>
<text x="300.5" y="790.20" font-size="6" fill="#5a5a5a" class="a" text-anchor="end">1600</text>
<line x1="306.00" x2="306.00" y1="785.60" y2="880.80" stroke="#eeeeee" stroke-width="1"/>
<text transform="translate(277.3,830.5) rotate(-90)" font-size="7.3" font-weight="bold" fill="#262626" class="c" text-anchor="middle">cells/µL</text>
<line x1="369.25" x2="369.25" y1="854.41" y2="880.80" stroke="#5a7fc4" stroke-width="1"/>
<line x1="365.75" x2="372.75" y1="854.41" y2="854.41" stroke="#5a7fc4" stroke-opacity="0.45" stroke-width="1"/>
<line x1="365.75" x2="372.75" y1="880.80" y2="880.80" stroke="#5a7fc4" stroke-opacity="0.45" stroke-width="1"/>
<rect x="357.10" y="865.54" width="24.30" height="14.80" fill="#4472c4"/>
<line x1="357.10" x2="381.40" y1="873.23" y2="873.23" stroke="#000" stroke-opacity="0.09" stroke-width="1"/>
<path d="M367.25 868.31L371.25 872.31M371.25 868.31L367.25 872.31" stroke="#2f5597" stroke-opacity="0.6" stroke-width="0.8" fill="none"/>
<circle cx="369.25" cy="857.09" r="1.4" fill="#2f5597" fill-opacity="0.75"/>
<circle cx="369.25" cy="862.39" r="1.4" fill="#2f5597" fill-opacity="0.75"/>
<circle cx="369.25" cy="834.96" r="1.7" fill="#2a4a8a" stroke="#4472c4" stroke-opacity="0.4" stroke-width="0.6"/>
<line x1="395.75" x2="395.75" y1="860.30" y2="877.54" stroke="#e0813f" stroke-width="1"/>
<line x1="392.25" x2="399.25" y1="860.30" y2="860.30" stroke="#e0813f" stroke-opacity="0.45" stroke-width="1"/>
<line x1="392.25" x2="399.25" y1="877.54" y2="877.54" stroke="#e0813f" stroke-opacity="0.45" stroke-width="1"/>
<rect x="383.60" y="866.18" width="24.30" height="5.65" fill="#ed7d31"/>
<line x1="383.60" x2="407.90" y1="869.15" y2="869.15" stroke="#000" stroke-opacity="0.09" stroke-width="1"/>
<line x1="421.65" x2="421.65" y1="841.31" y2="878.18" stroke="#9a9a9a" stroke-width="1"/>
<line x1="418.15" x2="425.15" y1="841.31" y2="841.31" stroke="#9a9a9a" stroke-opacity="0.45" stroke-width="1"/>
<line x1="418.15" x2="425.15" y1="878.18" y2="878.18" stroke="#9a9a9a" stroke-opacity="0.45" stroke-width="1"/>
<rect x="409.60" y="857.79" width="24.10" height="16.14" fill="#a5a5a5"/>
<line x1="409.60" x2="433.70" y1="866.82" y2="866.82" stroke="#000" stroke-opacity="0.09" stroke-width="1"/>
<path d="M419.65 861.32L423.65 865.32M423.65 861.32L419.65 865.32" stroke="#7b7b7b" stroke-opacity="0.6" stroke-width="0.8" fill="none"/>
<circle cx="421.65" cy="851.79" r="1.4" fill="#7b7b7b" fill-opacity="0.75"/>
<circle cx="421.65" cy="782.71" r="1.7" fill="#606060" stroke="#a5a5a5" stroke-opacity="0.4" stroke-width="0.6"/>
<line x1="448.40" x2="448.40" y1="848.70" y2="876.14" stroke="#e0b030" stroke-width="1"/>
<line x1="444.90" x2="451.90" y1="848.70" y2="848.70" stroke="#e0b030" stroke-opacity="0.45" stroke-width="1"/>
<line x1="444.90" x2="451.90" y1="876.14" y2="876.14" stroke="#e0b030" stroke-opacity="0.45" stroke-width="1"/>
<rect x="436.40" y="856.10" width="24.00" height="14.74" fill="#ffc000"/>
<line x1="436.40" x2="460.40" y1="862.39" y2="862.39" stroke="#000" stroke-opacity="0.09" stroke-width="1"/>
<path d="M446.40 859.58L450.40 863.58M450.40 859.58L446.40 863.58" stroke="#bf9000" stroke-opacity="0.6" stroke-width="0.8" fill="none"/>
<circle cx="448.40" cy="819.52" r="1.7" fill="#b89018" stroke="#ffc000" stroke-opacity="0.4" stroke-width="0.6"/>
<rect x="295.9" y="898.5" width="6.4" height="6.6" fill="#4472c4"/>
<text x="305.09999999999997" y="904.7" font-size="8" fill="#595959" class="l">T1 (<tspan font-style='italic'>n</tspan>=39)</text>
<rect x="346.6" y="898.5" width="6.4" height="6.6" fill="#ed7d31"/>
<text x="355.8" y="904.7" font-size="8" fill="#595959" class="l">T2 (<tspan font-style='italic'>n</tspan>=33)</text>
<rect x="397" y="898.5" width="6.4" height="6.6" fill="#a5a5a5"/>
<text x="406.2" y="904.7" font-size="8" fill="#595959" class="l">T3 (<tspan font-style='italic'>n</tspan>=22)</text>
<rect x="448" y="898.5" width="6.4" height="6.6" fill="#ffc000"/>
<text x="457.2" y="904.7" font-size="8" fill="#595959" class="l">T4 (<tspan font-style='italic'>n</tspan>=16)</text>
<rect x="5" y="917.5" width="170" height="16.8" fill="#a6a6a6"/>
<rect x="5" y="936.7" width="510" height="17.3" fill="#cdcdcd"/>
<rect x="177" y="917.5" width="76" height="16.8" fill="#2e549e"/>
<text x="215.0" y="929.7" font-size="9.3" font-weight="bold" fill="#fff" text-anchor="middle">T1 (Day 30)</text>
<text x="215.0" y="949.3" font-size="9.4" fill="#1a1a1a" text-anchor="middle">28 (25 - 31)</text>
<rect x="255" y="917.5" width="81.5" height="16.8" fill="#cc5a10"/>
<text x="295.75" y="929.7" font-size="9.3" font-weight="bold" fill="#fff" text-anchor="middle">T2 (Day 100)</text>
<text x="295.75" y="949.3" font-size="9.4" fill="#1a1a1a" text-anchor="middle">97 (95-104)</text>
<rect x="338.8" y="917.5" width="90.19999999999999" height="16.8" fill="#7a7a7a"/>
<text x="383.9" y="929.7" font-size="9.3" font-weight="bold" fill="#fff" text-anchor="middle">T3 (Day 180)</text>
<text x="383.9" y="949.3" font-size="9.4" fill="#1a1a1a" text-anchor="middle">179 (173-191)</text>
<rect x="431.3" y="917.5" width="83.69999999999999" height="16.8" fill="#c39100"/>
<text x="473.15" y="929.7" font-size="9.3" font-weight="bold" fill="#fff" text-anchor="middle">T4 (Day 365)</text>
<text x="473.15" y="949.3" font-size="9.4" fill="#1a1a1a" text-anchor="middle">365 (342-386)</text>
<rect x="175" y="936.7" width="2" height="17.3" fill="#f2f2f2"/>
<rect x="253" y="936.7" width="2" height="17.3" fill="#f2f2f2"/>
<rect x="336.6" y="936.7" width="2" height="17.3" fill="#f2f2f2"/>
<rect x="429.2" y="936.7" width="2" height="17.3" fill="#f2f2f2"/>
<text x="10.4" y="948.6" font-size="9.15" font-weight="bold" fill="#1a1a1a">Day + of collection: median (range)</text>
<text x="10.4" y="969.8" font-size="9.85" fill="#404040">Figure 1: Immune reconstitution</text>
</svg>
</body></html>
